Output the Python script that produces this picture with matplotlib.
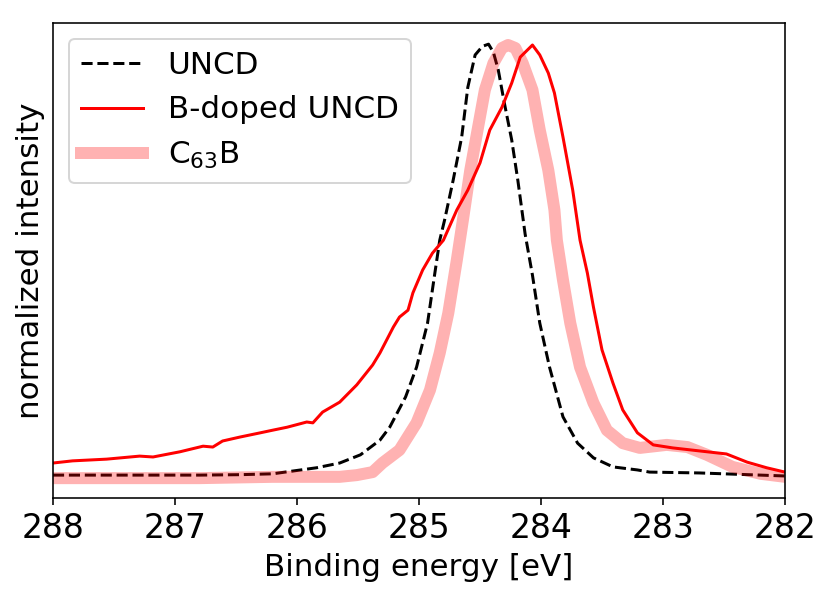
import matplotlib
matplotlib.use('Agg')
from matplotlib import pyplot as plt

# UNCD (dashed black)
uncd_e = [288.00, 287.20, 286.80, 286.47, 286.20, 285.84, 285.65, 285.48, 285.32, 285.24,
          285.11, 285.02, 284.93, 284.87, 284.83, 284.79, 284.72, 284.65, 284.60, 284.54,
          284.48, 284.43, 284.39, 284.35, 284.30, 284.24, 284.19, 284.13, 284.07, 284.01,
          283.93, 283.82, 283.70, 283.57, 283.41, 283.21, 283.11, 282.70, 282.00]
uncd_i = [0.002, 0.002, 0.002, 0.003, 0.005, 0.019, 0.030, 0.049, 0.083, 0.113,
          0.183, 0.252, 0.354, 0.470, 0.546, 0.593, 0.685, 0.785, 0.900, 0.975,
          0.995, 1.000, 0.981, 0.940, 0.863, 0.778, 0.685, 0.560, 0.465, 0.354,
          0.252, 0.137, 0.076, 0.042, 0.021, 0.014, 0.009, 0.007, 0.000]

# B-doped UNCD (red)
bdop_e = [288.00, 287.84, 287.56, 287.29, 287.18, 286.96, 286.77, 286.69, 286.61, 286.47,
          286.30, 286.20, 286.08, 285.92, 285.87, 285.79, 285.65, 285.51, 285.38, 285.32,
          285.21, 285.16, 285.09, 285.05, 284.97, 284.89, 284.80, 284.69, 284.60, 284.50,
          284.42, 284.32, 284.24, 284.17, 284.07, 284.01, 283.94, 283.89, 283.82, 283.74,
          283.68, 283.62, 283.57, 283.50, 283.41, 283.33, 283.21, 283.08, 282.92, 282.70,
          282.48, 282.31, 282.15, 282.00]
bdop_i = [0.030, 0.035, 0.039, 0.046, 0.044, 0.056, 0.069, 0.067, 0.081, 0.090,
          0.100, 0.106, 0.113, 0.125, 0.123, 0.148, 0.171, 0.211, 0.257, 0.285,
          0.345, 0.368, 0.384, 0.424, 0.477, 0.516, 0.546, 0.616, 0.662, 0.725,
          0.801, 0.854, 0.910, 0.970, 0.998, 0.975, 0.933, 0.887, 0.785, 0.662,
          0.546, 0.470, 0.391, 0.292, 0.215, 0.153, 0.100, 0.072, 0.065, 0.058,
          0.051, 0.032, 0.019, 0.009]

# C63B (thick light red)
c63b_e = [288.00, 286.80, 286.20, 285.65, 285.51, 285.38, 285.30, 285.16, 285.02, 284.91,
          284.83, 284.76, 284.69, 284.64, 284.58, 284.52, 284.46, 284.39, 284.32, 284.27,
          284.21, 284.15, 284.07, 284.01, 283.94, 283.89, 283.87, 283.82, 283.76, 283.68,
          283.57, 283.46, 283.33, 283.19, 282.97, 282.80, 282.64, 282.43, 282.20, 282.00]
c63b_i = [-0.005, -0.005, -0.002, -0.002, 0.002, 0.009, 0.030, 0.060, 0.123, 0.199,
          0.285, 0.377, 0.500, 0.593, 0.708, 0.801, 0.894, 0.956, 0.991, 0.998,
          0.991, 0.956, 0.894, 0.801, 0.708, 0.616, 0.546, 0.454, 0.354, 0.252,
          0.169, 0.106, 0.076, 0.065, 0.072, 0.067, 0.049, 0.021, 0.005, -0.002]

xticks = [288, 287, 286, 285, 284, 283, 282]

f = plt.figure(figsize=(831 / 144.0, 598 / 144.0), dpi=144)
ax = f.add_axes([53 / 831.0, 1 - 498 / 598.0, (785 - 53) / 831.0, (498 - 23) / 598.0])

ax.plot(uncd_e, uncd_i, 'k--', lw=1.5, label='UNCD')
ax.plot(bdop_e, bdop_i, color='red', lw=1.5, label='B-doped UNCD')
ax.plot(c63b_e, c63b_i, color='red', alpha=0.3, lw=6, label='C$_{63}$B')

ax.set_xlim(288, 282)
ax.set_ylim(-0.051, 1.049)
ax.set_xticks(xticks)
ax.set_xticklabels([str(t) for t in xticks], fontsize=16.5)
ax.set_yticks([])
ax.set_xlabel('Binding energy [eV]', fontsize=15.5)
ax.set_ylabel('normalized intensity', fontsize=15.5)
ax.legend(loc='upper left', fontsize=15.5)

f.savefig('out.png', dpi=144)
